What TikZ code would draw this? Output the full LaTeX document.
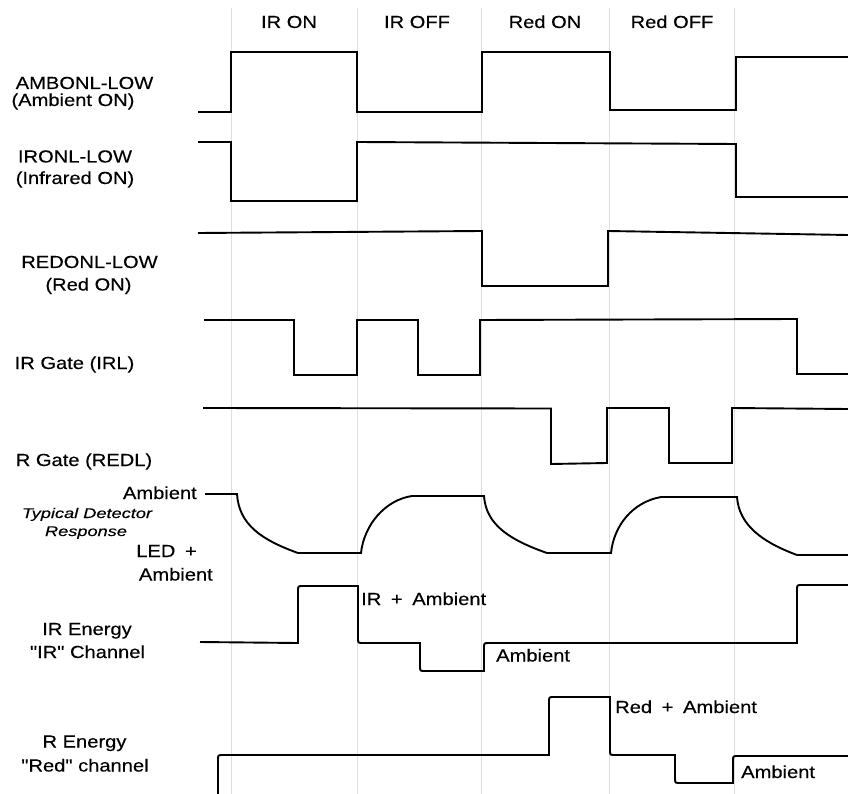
\documentclass[tikz,border=0pt]{standalone}
\usepackage{fontspec}
\setmainfont{Liberation Sans}[FakeStretch=1.15, FakeBold=0.3, Ligatures=TeXOff]
\newfontfamily\itfam{Liberation Sans}[FakeStretch=1.3, FakeBold=0.3, Ligatures=TeXOff]
\newcommand{\plusgap}{\hspace{0.55em}+\hspace{0.55em}}
\begin{document}
\begin{tikzpicture}[x=1pt,y=-1pt,
  wave/.style={line width=1.9pt, line join=miter, black},
  gridline/.style={draw=black!13, line width=0.8pt},
  lbl/.style={inner sep=0pt, anchor=base, font=\fontsize{17.5}{20}\selectfont},
  lbll/.style={lbl, anchor=base west},
  lblr/.style={lbl, anchor=base east},
  ital/.style={inner sep=0pt, anchor=base, font=\fontsize{14}{17}\selectfont\itfam\itshape}]
\useasboundingbox (0,0) rectangle (848,794);
% grid lines
\foreach \x in {231,357,481,609,734} \draw[gridline] (\x,8) -- (\x,794);
% header
\node[lbl] (h1) at (289,28) {IR ON};
\node[lbl] (h2) at (417,28) {IR OFF};
\node[lbl] (h3) at (545,28) {Red ON};
\node[lbl] (h4) at (672,28) {Red OFF};
% labels
\node[lbl] (l1a) at (84.5,89) {AMBONL-LOW};
\node[lbl] (l1b) at (73,106) {(Ambient ON)};
\node[lbl] (l2a) at (75,162.5) {IRONL-LOW};
\node[lbl] (l2b) at (75,184) {(Infrared ON)};
\node[lbl] (l3a) at (89.5,268) {REDONL-LOW};
\node[lbl] (l3b) at (88.5,290.5) {(Red ON)};
\node[lbl] (l4) at (74.5,369) {IR Gate (IRL)};
\node[lbl] (l5) at (84,466) {R Gate (REDL)};
\node[lblr] (l6a) at (197,499) {Ambient};
\node[ital] (l6b) at (87,518) {Typical Detector};
\node[ital] (l6c) at (86,536) {Response};
\node[lblr] (l6d) at (197,557) {LED\hspace{0.55em}+};
\node[lblr] (l6e) at (213,580.5) {Ambient};
\node[lbl] (l7a) at (87,635) {IR Energy};
\node[lbl] (l7b) at (87.5,658) {"IR" Channel};
\node[lbl] (l8a) at (84.5,747.5) {R Energy};
\node[lbl] (l8b) at (85,771.5) {"Red" channel};
\node[lbll] (t1) at (361,605) {IR\plusgap Ambient};
\node[lbll] (t2) at (496,661.5) {Ambient};
\node[lbll] (t3) at (615,713) {Red\plusgap Ambient};
\node[lbll] (t4) at (741,778) {Ambient};
% AMBONL-LOW
\draw[wave] (198,112) -- (231,112) -- (231,52) -- (357,52) -- (357,112) -- (482,112) -- (482,52) -- (610,52) -- (610,110) -- (736,110) -- (736,57) -- (848,57);
% IRONL-LOW
\draw[wave] (198,142) -- (231,142) -- (231,201) -- (357,201) -- (357,142) -- (736,144) -- (736,197) -- (848,197);
% REDONL-LOW
\draw[wave] (198,233) -- (482,231) -- (482,286) -- (608,286) -- (608,231) -- (848,235);
% IR Gate
\draw[wave] (204,320) -- (294,320) -- (294,375) -- (357,375) -- (357,320) -- (418,320) -- (418,375) -- (480,375) -- (480,320) -- (797,319) -- (797,374) -- (848,374);
% R Gate
\draw[wave] (203,408) -- (551,408.5) -- (551,464) -- (607,463) -- (607,408) -- (669,408) -- (669,463) -- (732,463) -- (732,408) -- (848,409);
% Detector response
\draw[wave] (205,494) -- (237,494) .. controls (239,525) and (262,540) .. (298,553) -- (361,553) .. controls (364,525) and (385,500) .. (412,496) -- (484,496) .. controls (486,525) and (510,540) .. (547,553) -- (611,553) .. controls (614,525) and (633,502) .. (661,497) -- (737,497) .. controls (739,525) and (762,542) .. (797,555) -- (848,555);
% IR energy
\draw[wave] (200,642) -- (298,643) -- (298,591) .. controls (298,586) .. (303,586) -- (358,586) -- (358,638) .. controls (358,643) .. (363,643) -- (420,643) -- (420,666) .. controls (420,671) .. (425,671) -- (484,671) -- (484,648) .. controls (484,643) .. (489,643) -- (797,643) -- (797,590) .. controls (797,585) .. (802,585) -- (848,585);
% R energy
\draw[wave] (218,794) -- (218,760) .. controls (218,755) .. (223,755) -- (549,755) -- (549,702) .. controls (549,697) .. (554,697) -- (610,697) -- (610,750) .. controls (610,755) .. (615,755) -- (675,755) -- (675,778) .. controls (675,783) .. (680,783) -- (733,783) -- (733,761) .. controls (733,756) .. (738,756) -- (848,756);
\end{tikzpicture}
\end{document}
